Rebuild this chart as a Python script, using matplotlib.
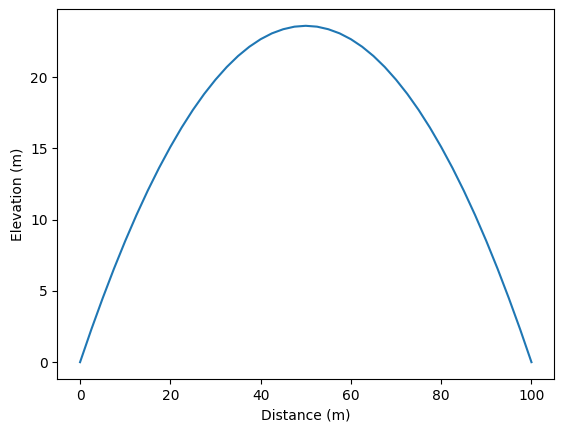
import matplotlib
matplotlib.use("Agg")
import matplotlib.pyplot as plt

# distance along the path (m) and elevation (m)
distance = [0, 2.5, 5, 7.5, 10, 12.5, 15, 17.5, 20, 22.5, 25, 27.5, 30, 32.5, 35, 37.5,
            40, 42.5, 45, 47.5, 50, 52.5, 55, 57.5, 60, 62.5, 65, 67.5, 70, 72.5,
            75, 77.5, 80, 82.5, 85, 87.5, 90, 92.5, 95, 97.5, 100]
elevation = [0.0, 2.30, 4.48, 6.55, 8.50, 10.33, 12.04, 13.63, 15.10, 16.46, 17.70,
             18.82, 19.82, 20.71, 21.48, 22.13, 22.66, 23.07, 23.36, 23.54, 23.60,
             23.54, 23.36, 23.07, 22.66, 22.13, 21.48, 20.71, 19.82, 18.82, 17.70,
             16.46, 15.10, 13.63, 12.04, 10.33, 8.50, 6.55, 4.48, 2.30, 0.0]

fig = plt.figure(figsize=(5.62, 4.32), dpi=100)
ax = fig.add_axes([0.1023, 0.1227, 0.8835, 0.8565])
ax.plot(distance, elevation)
ax.set_xlabel('Distance (m)')
ax.set_ylabel('Elevation (m)')

fig.savefig('out.png', dpi=100)
